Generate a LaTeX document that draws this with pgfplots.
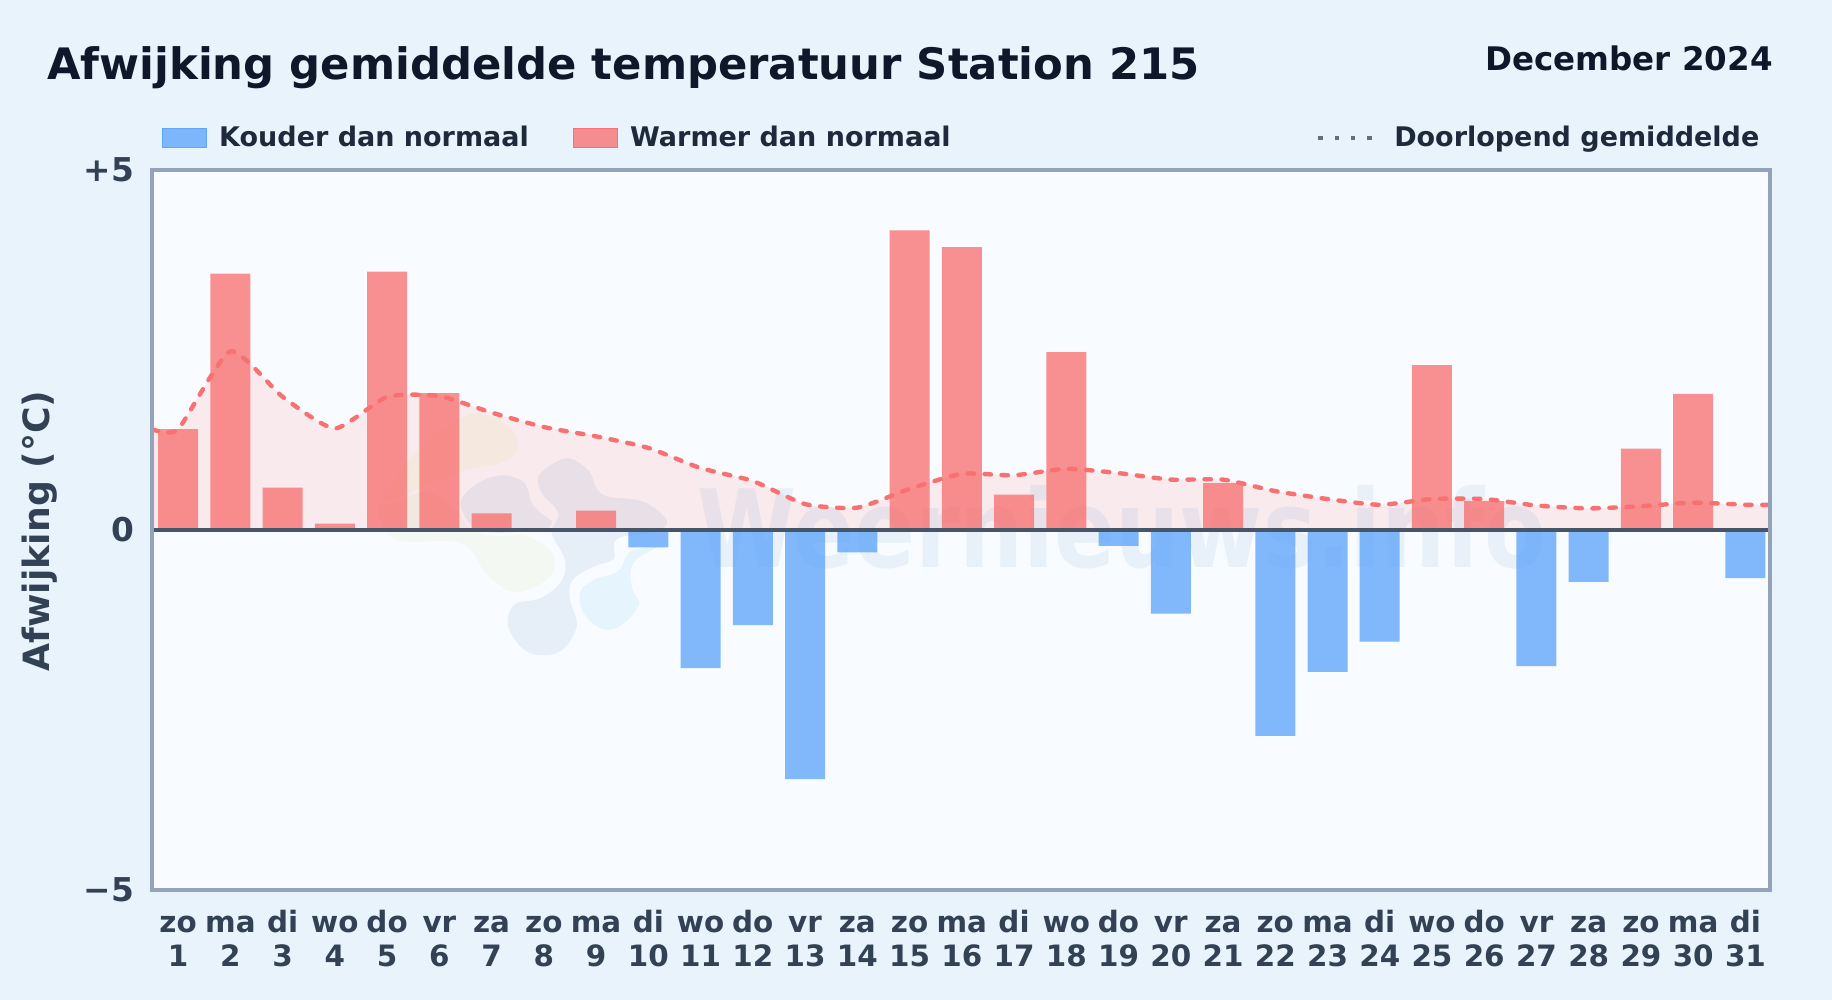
\documentclass[border=0pt]{standalone}
\usepackage{fontspec}
\setmainfont{DejaVu Sans}
\usepackage{pgfplots}
\pgfplotsset{compat=1.18}
\definecolor{pagebg}{HTML}{E8F3FC}
\definecolor{plotbg}{HTML}{F8FBFF}
\definecolor{axframe}{HTML}{94A3B8}
\definecolor{zeroline}{HTML}{475569}
\definecolor{ticktxt}{HTML}{334155}
\definecolor{titletxt}{HTML}{0F172A}
\definecolor{legtxt}{HTML}{1E293B}
\definecolor{cold}{HTML}{60A5FA}
\definecolor{warm}{HTML}{F87171}
\definecolor{wmark}{HTML}{E8F1FA}
\definecolor{blobnavy}{HTML}{E6EFF8}
\definecolor{blobsky}{HTML}{E6F4FD}
\definecolor{blobgreen}{HTML}{F3F8F2}
\definecolor{blobcream}{HTML}{F5F9EE}
\begin{document}
\begin{tikzpicture}[x=0.5pt,y=0.5pt]
% page and plot background, y measured from the bottom of the image
\fill[pagebg] (0,0) rectangle (1832,1000);
\path[use as bounding box] (0,0) rectangle (1832,1000);
\fill[plotbg] (152,110) rectangle (1770,830);
% watermark
\node[text=wmark,font=\bfseries\fontsize{45}{45}\selectfont,anchor=base,inner sep=0pt,yscale=1.2,transform shape] at (1122,432) {Weernieuws.info};
\begin{scope}[shift={(180pt,305pt)},x=0.1667pt,y=-0.1667pt,draw=plotbg,line width=1.5pt]
\filldraw[fill=blobgreen] plot[smooth cycle,tension=0.7] coordinates {(60,330)(100,450)(300,465)(380,560)(470,610)(575,560)(575,480)(470,420)(300,360)(200,300)};
\filldraw[fill=blobcream] plot[smooth cycle,tension=0.7] coordinates {(300,80)(380,70)(470,130)(450,210)(300,250)(180,300)(70,340)(100,260)(200,150)};
\filldraw[fill=blobsky] plot[smooth cycle,tension=0.7] coordinates {(900,470)(825,520)(820,590)(840,650)(760,722)(680,690)(655,610)(700,565)(770,540)(810,480)};
\filldraw[fill=blobnavy] plot[smooth cycle,tension=0.7] coordinates {(310,310)(400,255)(490,270)(525,345)(590,410)(480,430)(360,425)(305,370)};
\filldraw[fill=blobnavy] plot[smooth cycle,tension=0.6] coordinates {(535,250)(620,200)(690,240)(730,310)(850,330)(925,390)(890,430)(775,450)(765,510)(700,535)(640,575)(635,630)(655,710)(600,790)(500,790)(440,710)(460,640)(540,620)(600,570)(610,510)(570,430)(590,370)(540,310)};
\end{scope}
\begin{axis}[
    at={(76pt,55pt)}, anchor=south west,
    scale only axis, width=809pt, height=360pt,
    xmin=0.5, xmax=31.47, ymin=-5, ymax=5,
    axis line style={draw=none},
    tick style={draw=none},
    ytick={-5,0,5},
    yticklabels={−5,0,+5},
    xtick={1,...,31},
    xticklabels={{zo\\1},{ma\\2},{di\\3},{wo\\4},{do\\5},{vr\\6},{za\\7},{zo\\8},{ma\\9},{di\\10},{wo\\11},{do\\12},{vr\\13},{za\\14},{zo\\15},{ma\\16},{di\\17},{wo\\18},{do\\19},{vr\\20},{za\\21},{zo\\22},{ma\\23},{di\\24},{wo\\25},{do\\26},{vr\\27},{za\\28},{zo\\29},{ma\\30},{di\\31}},
    typeset ticklabels with strut,
    xticklabel style={align=center,text=ticktxt,font=\bfseries\fontsize{14.7}{17}\selectfont,inner sep=0pt,yshift=-9pt},
    yticklabel style={text=ticktxt,font=\bfseries\fontsize{16.4}{16.4}\selectfont,inner sep=0pt,xshift=-8.7pt,yshift=-2pt},
    ylabel={Afwijking (°C)},
    every axis y label/.style={at={(axis description cs:0,0.5)},rotate=90,anchor=center,yshift=56pt,xshift=-0.5pt},
    ylabel style={text=ticktxt,font=\bfseries\fontsize{18.1}{18.1}\selectfont},
    legend columns=3,
    legend cell align=left,
    legend style={at={(0,1)},anchor=west,draw=none,fill=none,yshift=16pt,xshift=5pt,inner sep=0pt,
        font=\bfseries\fontsize{13.5}{13.5}\selectfont,text=legtxt,
        /tikz/column 1/.style={column sep=4pt},
        /tikz/column 2/.style={column sep=20.25pt},
        /tikz/column 3/.style={column sep=4pt},
        /tikz/column 4/.style={column sep=180.75pt},
        /tikz/column 5/.style={column sep=7.5pt}},
]
% running mean area
\addplot[forget plot,draw=none,fill=warm,fill opacity=0.12,smooth,tension=0.35] coordinates {
(0.5,1.40)(1,1.40)(2,2.48)(3,1.85)(4,1.41)(5,1.85)(6,1.86)(7,1.63)(8,1.43)(9,1.30)(10,1.14)(11,0.86)(12,0.68)(13,0.36)(14,0.31)(15,0.57)(16,0.78)(17,0.76)(18,0.85)(19,0.79)(20,0.70)(21,0.70)(22,0.54)(23,0.43)(24,0.35)(25,0.43)(26,0.43)(27,0.34)(28,0.30)(29,0.33)(30,0.38)(31,0.35)(31.5,0.35)} \closedcycle;
% warmer days
\addplot[forget plot,ybar,bar width=20pt,bar shift=0pt,draw=none,fill=warm,fill opacity=0.78] coordinates {
(1,1.40)(2,3.56)(3,0.59)(4,0.09)(5,3.59)(6,1.90)(7,0.23)(9,0.27)(15,4.16)(16,3.93)(17,0.49)(18,2.47)(21,0.65)(25,2.29)(26,0.40)(29,1.13)(30,1.89)};
% colder days
\addplot[forget plot,ybar,bar width=20pt,bar shift=0pt,draw=none,fill=cold,fill opacity=0.78] coordinates {
(10,-0.24)(11,-1.92)(12,-1.32)(13,-3.46)(14,-0.31)(19,-0.22)(20,-1.16)(22,-2.86)(23,-1.97)(24,-1.55)(27,-1.89)(28,-0.72)(31,-0.67)};
% running mean
\addplot[forget plot,warm,line width=2.2pt,line cap=round,dash pattern=on 3.2pt off 5.3pt,smooth,tension=0.35] coordinates {
(0.5,1.40)(1,1.40)(2,2.48)(3,1.85)(4,1.41)(5,1.85)(6,1.86)(7,1.63)(8,1.43)(9,1.30)(10,1.14)(11,0.86)(12,0.68)(13,0.36)(14,0.31)(15,0.57)(16,0.78)(17,0.76)(18,0.85)(19,0.79)(20,0.70)(21,0.70)(22,0.54)(23,0.43)(24,0.35)(25,0.43)(26,0.43)(27,0.34)(28,0.30)(29,0.33)(30,0.38)(31,0.35)(31.5,0.35)};
% zero line
\addplot[forget plot,zeroline,line width=2pt] coordinates {(0.5,0)(31.47,0)};
\addlegendimage{legend image code/.code={\fill[cold,fill opacity=0.78] (0pt,-4.9pt) rectangle (22pt,4.9pt);}}
\addlegendentry{Kouder dan normaal}
\addlegendimage{legend image code/.code={\fill[warm,fill opacity=0.78] (0pt,-4.9pt) rectangle (22pt,4.9pt);}}
\addlegendentry{Warmer dan normaal}
\addlegendimage{legend image code/.code={\draw[zeroline!85,line width=2pt,dash pattern=on 2.2pt off 6pt] (0pt,0pt) -- (27.5pt,0pt);}}
\addlegendentry{Doorlopend gemiddelde}
\end{axis}
\draw[draw=axframe,line width=1.7pt] (152,110) rectangle (1770,830);
\node[anchor=base west,inner sep=0pt,text=titletxt,font=\bfseries\fontsize{21.66}{21.66}\selectfont] at (46.7,920) {Afwijking gemiddelde temperatuur Station 215};
\node[anchor=base east,inner sep=0pt,text=titletxt,font=\bfseries\fontsize{16.25}{16.25}\selectfont] at (1773,929) {December 2024};
\end{tikzpicture}
\end{document}
